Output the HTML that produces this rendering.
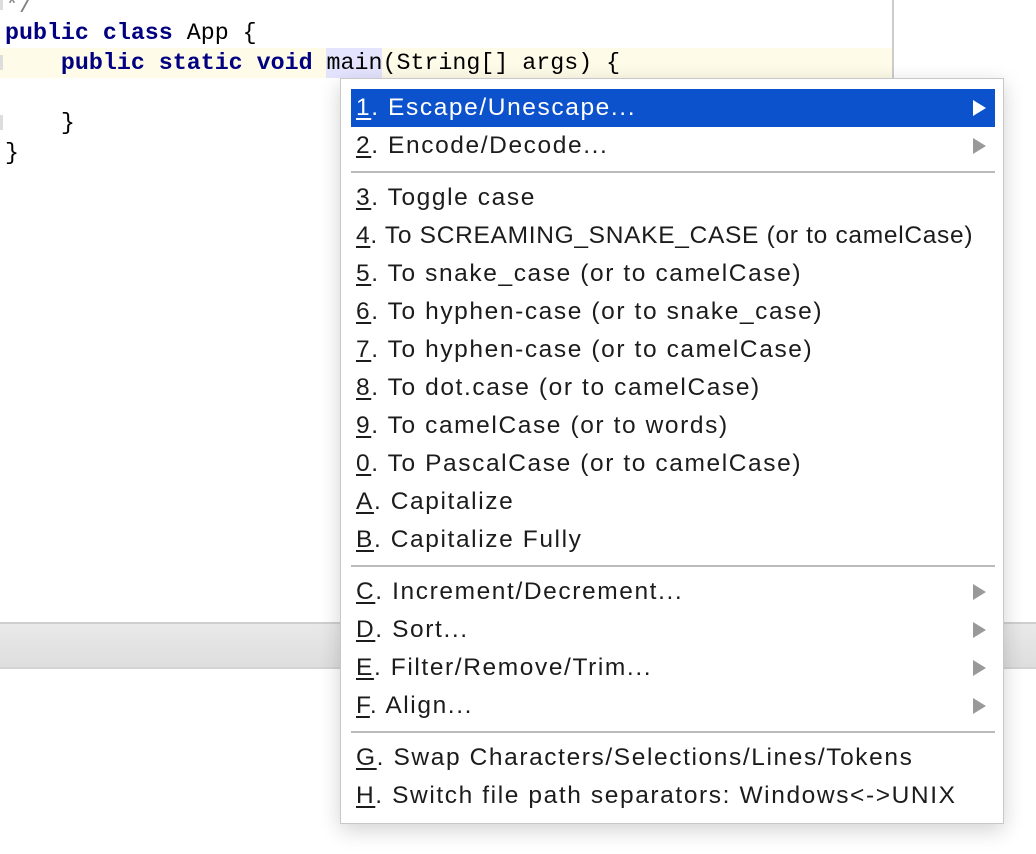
<!DOCTYPE html>
<html><head><meta charset="utf-8"><style>
*{margin:0;padding:0;box-sizing:border-box}
body{width:1036px;height:854px;background:#fff;position:relative;overflow:hidden;font-family:"Liberation Sans",sans-serif}
.code{position:absolute;left:5px;font-family:"Liberation Mono",monospace;font-size:23.3px;line-height:30px;color:#000;white-space:pre}
.kw{color:#000080;font-weight:bold}
.gutter{position:absolute;left:0;width:3px;background:#ddd}
.menu{position:absolute;left:340px;top:78px;width:664px;height:746px;background:#fff;border:1px solid #c8c8c8;box-shadow:0 6px 20px rgba(0,0,0,.18)}
.it{position:absolute;left:10px;width:644px;height:38px;line-height:38px;font-size:24.5px;letter-spacing:1.6px;color:#1c1c1c;padding-left:5px;white-space:nowrap}
.it u{text-decoration:underline;text-underline-offset:3px}
.sel{background:#0b52cc;color:#fff}
.arr{position:absolute;right:9px;top:11px;width:0;height:0;border-top:8px solid transparent;border-bottom:8px solid transparent;border-left:13px solid #999}
.sel .arr{border-left-color:#fff}
.sep{position:absolute;left:10px;width:644px;height:2px;background:#bbb}
</style></head><body>
<div style="position:absolute;left:892px;top:0;width:2px;height:78px;background:#ccc"></div>
<div style="position:absolute;left:0;top:48px;width:892px;height:30px;background:#fffbe9"></div>
<div style="position:absolute;left:326px;top:48px;width:56px;height:30px;background:#e4e4ff"></div>
<div class="gutter" style="top:0;height:10px"></div>
<div class="gutter" style="top:55px;height:15px"></div>
<div class="gutter" style="top:115px;height:15px"></div>
<div class="code" style="top:-9px;color:#808080">*/</div>
<div class="code" style="top:18px"><span class="kw">public class</span> App {</div>
<div class="code" style="top:48px">    <span class="kw">public static void</span> main(String[] args) {</div>
<div class="code" style="top:108px">    }</div>
<div class="code" style="top:138px">}</div>
<div style="position:absolute;left:0;top:622px;width:1036px;height:47px;background:linear-gradient(#e9e9e9,#dedede);border-top:2px solid #cfcfcf;border-bottom:2px solid #d4d4d4"></div>
<div class="menu">
<div class="it sel" style="top:10px"><u>1</u>. Escape/Unescape...<span class="arr"></span></div>
<div class="it" style="top:48px"><u>2</u>. Encode/Decode...<span class="arr"></span></div>
<div class="sep" style="top:92px"></div>
<div class="it" style="top:100px"><u>3</u>. Toggle case</div>
<div class="it" style="top:138px;letter-spacing:0.7px"><u>4</u>. To SCREAMING_SNAKE_CASE (or to camelCase)</div>
<div class="it" style="top:176px"><u>5</u>. To snake_case (or to camelCase)</div>
<div class="it" style="top:214px"><u>6</u>. To hyphen-case (or to snake_case)</div>
<div class="it" style="top:252px"><u>7</u>. To hyphen-case (or to camelCase)</div>
<div class="it" style="top:290px"><u>8</u>. To dot.case (or to camelCase)</div>
<div class="it" style="top:328px"><u>9</u>. To camelCase (or to words)</div>
<div class="it" style="top:366px"><u>0</u>. To PascalCase (or to camelCase)</div>
<div class="it" style="top:404px"><u>A</u>. Capitalize</div>
<div class="it" style="top:442px"><u>B</u>. Capitalize Fully</div>
<div class="sep" style="top:486px"></div>
<div class="it" style="top:494px"><u>C</u>. Increment/Decrement...<span class="arr"></span></div>
<div class="it" style="top:532px"><u>D</u>. Sort...<span class="arr"></span></div>
<div class="it" style="top:570px"><u>E</u>. Filter/Remove/Trim...<span class="arr"></span></div>
<div class="it" style="top:608px"><u>F</u>. Align...<span class="arr"></span></div>
<div class="sep" style="top:652px"></div>
<div class="it" style="top:660px"><u>G</u>. Swap Characters/Selections/Lines/Tokens</div>
<div class="it" style="top:698px"><u>H</u>. Switch file path separators: Windows&lt;-&gt;UNIX</div>
</div>
</body></html>
